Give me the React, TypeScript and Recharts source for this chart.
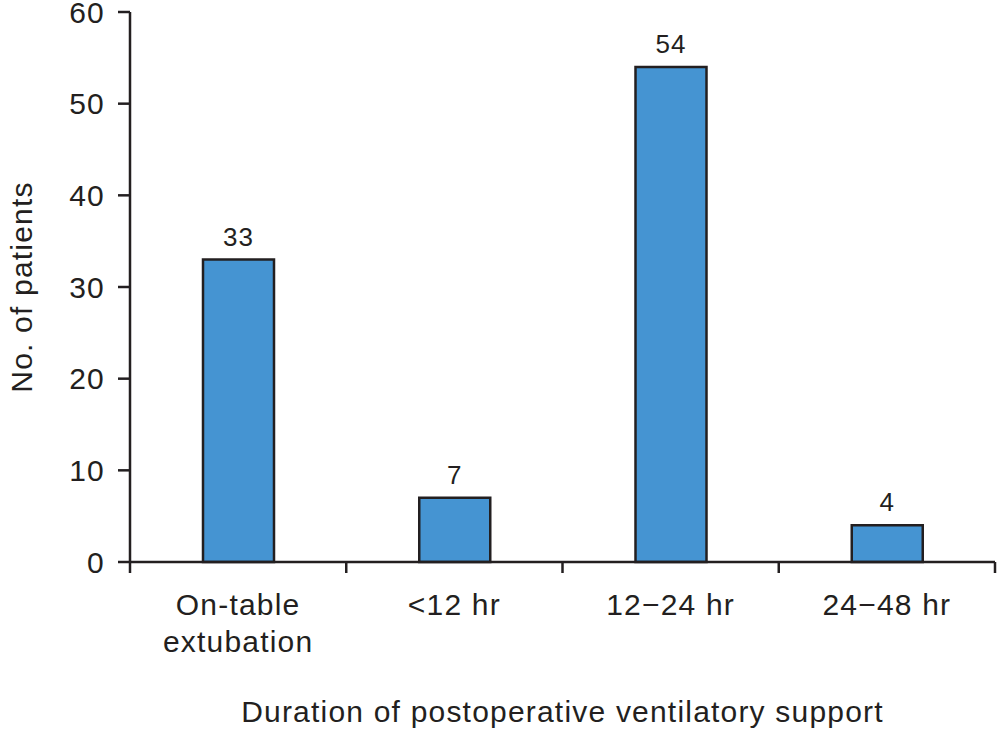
import { BarChart, Bar, XAxis, YAxis, LabelList } from "recharts";

// values
const categories = ["On-table\nextubation", "<12 hr", "12\u221224 hr", "24\u221248 hr"];
const patients = [33, 7, 54, 4];
const yTicks = [0, 10, 20, 30, 40, 50, 60];

const data = categories.map((name, i) => ({ name, value: patients[i] }));

const INK = "#231f20";
const BLUE = "#4594d2";
const W = 1000;
const H = 729;
const LEFT = 130;
const RIGHT = 5;
const BAND = (W - LEFT - RIGHT) / categories.length;
const FS = 30;
const LS = 1.2;

const XTick = (props: any) => {
  const { x, y, payload, index } = props;
  const lines = String(payload.value).split("\n");
  return (
    <g>
      <line x1={x - BAND / 2} x2={x - BAND / 2} y1={y} y2={y + 11} stroke={INK} strokeWidth={2.5} />
      {index === categories.length - 1 && (
        <line x1={x + BAND / 2} x2={x + BAND / 2} y1={y} y2={y + 11} stroke={INK} strokeWidth={2.5} />
      )}
      <text x={x} y={y} textAnchor="middle" fontSize={FS} letterSpacing={LS} fill={INK}>
        {lines.map((l, i) => (
          <tspan key={i} x={x} dy={i === 0 ? 53 : 37}>
            {l}
          </tspan>
        ))}
      </text>
    </g>
  );
};

export default function App() {
  return (
    <div
      style={{
        position: "absolute",
        left: 0,
        top: 0,
        width: W,
        height: H,
        background: "#fff",
        fontFamily: "'Liberation Sans', Arial, sans-serif",
      }}
    >
      <BarChart width={W} height={H} data={data} margin={{ top: 12, right: RIGHT, bottom: 0, left: 0 }}>
        <XAxis
          dataKey="name"
          height={H - 562}
          interval={0}
          tickLine={false}
          tickSize={0}
          tickMargin={0}
          axisLine={{ stroke: INK, strokeWidth: 2.5 }}
          tick={<XTick />}
          label={{
            value: "Duration of postoperative ventilatory support",
            position: "insideBottom",
            offset: 7,
            fontSize: FS,
            letterSpacing: LS,
            fill: INK,
          }}
        />
        <YAxis
          width={LEFT}
          domain={[0, 60]}
          ticks={yTicks}
          interval={0}
          tickSize={12}
          tickMargin={13}
          axisLine={{ stroke: INK, strokeWidth: 2.5 }}
          tickLine={{ stroke: INK, strokeWidth: 2.5 }}
          tick={{ fontSize: FS, letterSpacing: LS, fill: INK }}
          label={{
            value: "No. of patients",
            angle: -90,
            position: "insideLeft",
            offset: 21,
            fontSize: FS,
            letterSpacing: LS,
            fill: INK,
            style: { textAnchor: "middle" },
          }}
        />
        <Bar dataKey="value" fill={BLUE} stroke={INK} strokeWidth={2.5} barSize={71} isAnimationActive={false}>
          <LabelList dataKey="value" position="top" offset={14} fontSize={26} letterSpacing={1} fill={INK} />
        </Bar>
      </BarChart>
    </div>
  );
}
